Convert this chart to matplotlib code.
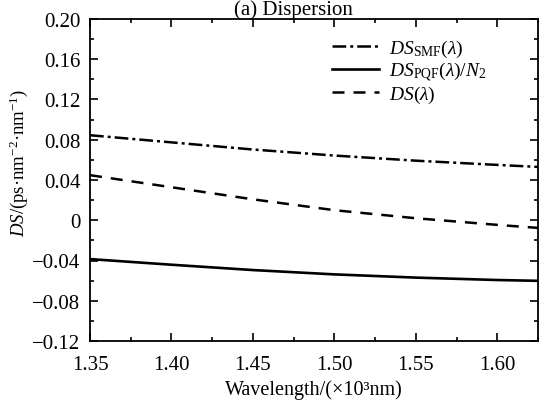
import numpy as np
import matplotlib
matplotlib.use("Agg")
import matplotlib.pyplot as plt
from matplotlib.ticker import MultipleLocator, FuncFormatter

plt.rcParams['font.family'] = ['Liberation Serif', 'DejaVu Serif']
plt.rcParams['mathtext.fontset'] = 'custom'
plt.rcParams['mathtext.rm'] = 'Liberation Serif'
plt.rcParams['mathtext.it'] = 'Liberation Serif:italic'
plt.rcParams['mathtext.bf'] = 'Liberation Serif:bold'

# wavelength in 10^3 nm
wl = [1.35, 1.40, 1.45, 1.50, 1.55, 1.60, 1.625]
ds_smf = [0.0845, 0.0774, 0.0703, 0.0643, 0.0592, 0.0550, 0.0530]
ds_pqf = [-0.0386, -0.0442, -0.0495, -0.0538, -0.0570, -0.0594, -0.0602]
ds_total = [0.0448, 0.0328, 0.0208, 0.0100, 0.0020, -0.0046, -0.0076]

fig = plt.figure(figsize=(5.4, 4.1), dpi=100)
ax = fig.add_axes([90/540, 1-342/410, 448/540, 322/410])

x = np.array(wl)
ax.plot(x, ds_smf, color='black', lw=1.8, dashes=(5.5, 1.6, 1.2, 1.6),
        label=r'$DS_{\rm SMF}(\lambda)$')
ax.plot(x, ds_pqf, color='black', lw=1.9, label=r'$DS_{\rm PQF}(\lambda)/N_2$')
ax.plot(x, ds_total, color='black', lw=1.8, dashes=(4.8, 3.6),
        label=r'$DS(\lambda)$')

ax.set_xlim(1.35, 1.625)
ax.set_ylim(-0.12, 0.20)
ax.xaxis.set_major_locator(MultipleLocator(0.05))
ax.xaxis.set_minor_locator(MultipleLocator(0.025))
ax.yaxis.set_major_locator(MultipleLocator(0.04))
ax.yaxis.set_minor_locator(MultipleLocator(0.02))
ax.xaxis.set_major_formatter(FuncFormatter(lambda v, p: f"{v:.2f}"))
ax.yaxis.set_major_formatter(FuncFormatter(
    lambda v, p: "0" if abs(v) < 1e-9 else f"{v:.2f}".replace('-', '\u2212')))

ax.tick_params(which='both', direction='in', top=True, right=True, labelsize=15)
ax.tick_params(which='major', length=6, width=1.2)
ax.tick_params(which='minor', length=3, width=1.2)
ax.tick_params(axis='x', pad=10)
ax.tick_params(axis='y', pad=7)
for s in ax.spines.values():
    s.set_linewidth(1.3)

ax.set_xlabel('Wavelength/(\u00d710\u00b3nm)', fontsize=14.5, labelpad=4)
ax.set_ylabel(r'$DS$/(ps·nm$^{-2}$·nm$^{-1}$)', fontsize=13.5)
ax.yaxis.set_label_coords(-0.134, 0.556)

fig.text(293/540, 1-15/410, '(a) Dispersion', fontsize=15, ha='center', va='baseline')

ax.legend(loc='upper right', bbox_to_anchor=(0.915, 0.985), frameon=False,
          fontsize=14, handlelength=2.4, handletextpad=0.5, labelspacing=0.05,
          borderaxespad=0.3)

fig.savefig('out.png', dpi=100)
